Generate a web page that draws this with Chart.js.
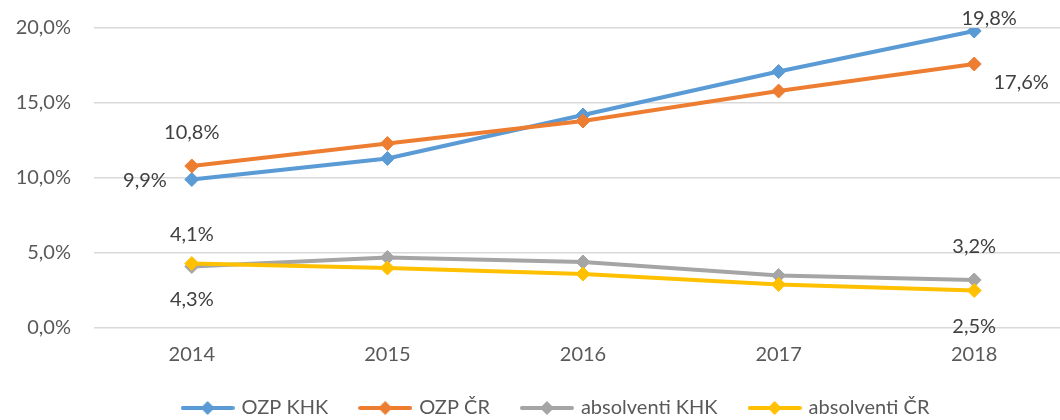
<!DOCTYPE html>
<html lang="cs">
<head>
    <meta charset="UTF-8">
    <script src="https://cdn.jsdelivr.net/npm/chart.js"></script>
    <title>OZP a absolventi</title>
    <style>
        body {
            margin: 0;
            padding: 0;
            background-color: #fff;
            overflow: hidden;
        }

        .wrap {
            position: relative;
            width: 1080px;
            height: 428px;
        }
    </style>
</head>
<body>

    <div class="wrap">
        <canvas id="myChart"></canvas>
    </div>

    <script>
        const years = ['2014', '2015', '2016', '2017', '2018'];
        const seriesNames = ['OZP KHK', 'OZP ČR', 'absolventi KHK', 'absolventi ČR'];
        const ozpKhk = [9.9, 11.3, 14.2, 17.1, 19.8];
        const ozpCr = [10.8, 12.3, 13.8, 15.8, 17.6];
        const absolventiKhk = [4.1, 4.7, 4.4, 3.5, 3.2];
        const absolventiCr = [4.3, 4.0, 3.6, 2.9, 2.5];
        const yTicks = [0, 5, 10, 15, 20];

        const colors = ['#5B9BD5', '#ED7D31', '#A5A5A5', '#FFC000'];
        const allValues = [ozpKhk, ozpCr, absolventiKhk, absolventiCr];

        const FONT = 'Lato';
        const LEGEND_SHIFT = 20;

        function fmt(v) {
            return v.toFixed(1).replace('.', ',') + '%';
        }

        // legend marker: short line with a diamond in the middle
        function legendIcon(color) {
            const c = document.createElement('canvas');
            c.width = 54;
            c.height = 16;
            const ctx = c.getContext('2d');
            ctx.strokeStyle = color;
            ctx.lineWidth = 4;
            ctx.lineCap = 'round';
            ctx.beginPath();
            ctx.moveTo(2, 8);
            ctx.lineTo(52, 8);
            ctx.stroke();
            ctx.fillStyle = color;
            ctx.beginPath();
            ctx.moveTo(27, 1);
            ctx.lineTo(34, 8);
            ctx.lineTo(27, 15);
            ctx.lineTo(20, 8);
            ctx.closePath();
            ctx.fill();
            return c;
        }

        // which point gets a value label and where it sits (dataset, index, dx, dy, align)
        const pointLabels = [
            [0, 0, -25, 1, 'right'],
            [1, 0, 0, -33, 'center'],
            [2, 0, 0, -32, 'center'],
            [3, 0, 0, 36, 'center'],
            [0, 4, 15, -12, 'center'],
            [1, 4, 47, 19, 'center'],
            [2, 4, 0, -33, 'center'],
            [3, 4, 0, 36, 'center']
        ];

        const valueLabels = {
            id: 'valueLabels',
            afterLayout(chart) {
                // nudge the legend right, like the original
                chart.legend.left += LEGEND_SHIFT;
                chart.legend.right += LEGEND_SHIFT;
            },
            afterDatasetsDraw(chart) {
                const ctx = chart.ctx;
                ctx.save();
                ctx.font = '20px ' + FONT;
                ctx.fillStyle = '#404040';
                ctx.textBaseline = 'middle';
                pointLabels.forEach(([ds, i, dx, dy, align]) => {
                    const pt = chart.getDatasetMeta(ds).data[i];
                    ctx.textAlign = align;
                    ctx.fillText(fmt(allValues[ds][i]), pt.x + dx, pt.y + dy);
                });
                ctx.restore();
            }
        };

        const chartData = {
            labels: years,
            datasets: allValues.map((vals, i) => ({
                label: seriesNames[i],
                data: vals,
                borderColor: colors[i],
                backgroundColor: colors[i],
                borderWidth: 4,
                pointStyle: 'rectRot',
                pointRadius: 7,
                pointBorderWidth: 1,
                pointBorderColor: colors[i],
                pointBackgroundColor: colors[i],
                tension: 0,
                order: 3 - i
            }))
        };

        const chartConfig = {
            type: 'line',
            data: chartData,
            plugins: [valueLabels],
            options: {
                responsive: true,
                maintainAspectRatio: false,
                animation: false,
                layout: {
                    padding: { left: 0, right: 7, top: 28, bottom: 0 }
                },
                plugins: {
                    tooltip: { enabled: false },
                    legend: {
                        position: 'bottom',
                        labels: {
                            usePointStyle: true,
                            pointStyleWidth: 48,
                            padding: 33,
                            color: '#595959',
                            font: { family: FONT, size: 20 },
                            generateLabels(chart) {
                                return chart.data.datasets.map((d, i) => ({
                                    text: d.label,
                                    pointStyle: legendIcon(colors[i]),
                                    fillStyle: colors[i],
                                    strokeStyle: colors[i],
                                    lineWidth: 0,
                                    fontColor: '#595959',
                                    hidden: false,
                                    datasetIndex: i
                                }));
                            }
                        }
                    }
                },
                scales: {
                    x: {
                        offset: true,
                        grid: { display: false, drawTicks: false },
                        border: { display: false },
                        ticks: {
                            padding: 15,
                            color: '#595959',
                            font: { family: FONT, size: 20 }
                        },
                        afterFit(scale) {
                            scale.height = 37;
                        }
                    },
                    y: {
                        min: 0,
                        max: 20,
                        afterBuildTicks(scale) {
                            scale.ticks = yTicks.map(v => ({ value: v }));
                        },
                        grid: { color: '#D9D9D9', lineWidth: 1.5, drawTicks: false },
                        border: { display: false },
                        ticks: {
                            padding: 23,
                            color: '#595959',
                            font: { family: FONT, size: 20 },
                            callback: v => fmt(v)
                        },
                        afterFit(scale) {
                            scale.width = 94;
                            // tick padding should not push the plot down
                            scale.paddingTop = 12;
                            scale.paddingBottom = 12;
                        }
                    }
                }
            }
        };

        new Chart(document.getElementById('myChart'), chartConfig);
    </script>

</body>
</html>
